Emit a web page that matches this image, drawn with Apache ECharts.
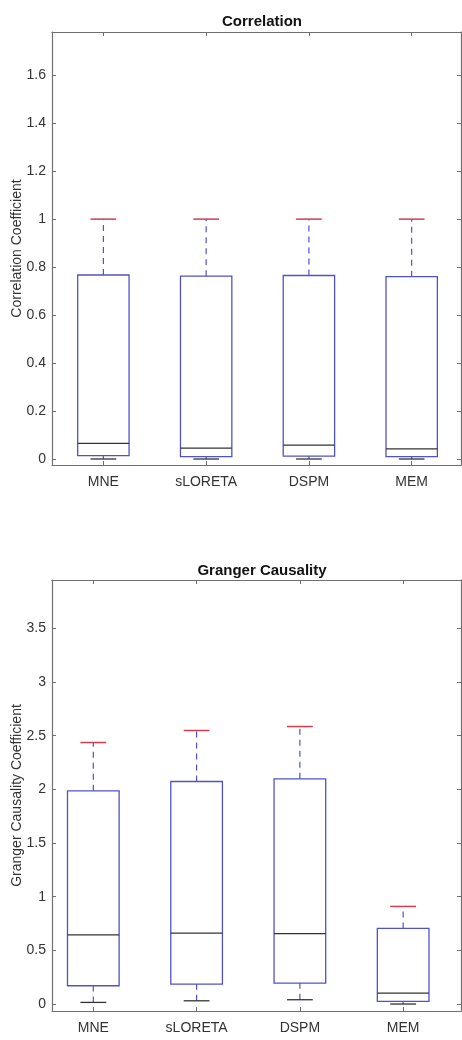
<!DOCTYPE html>
<html>
    <head>
        <meta charset="utf-8">
        <title>Correlation / Granger Causality</title>
        <script src="https://cdn.jsdelivr.net/npm/echarts/dist/echarts.min.js"></script>
        <style>
            body { margin: 0; background: #fff; }
        </style>
    </head>
    <body>
        <div id="chart1" style="width:462px;height:1040px;"></div>
    </body>
    <script type="text/javascript">
        // categories and box statistics
        var categories = ['MNE', 'sLORETA', 'DSPM', 'MEM'];
        var catPos = [1, 2, 3, 4];

        var corrMin    = [0, 0, 0, 0];
        var corrQ1     = [0.014, 0.010, 0.012, 0.010];
        var corrMedian = [0.065, 0.045, 0.058, 0.042];
        var corrQ3     = [0.767, 0.762, 0.765, 0.760];
        var corrMax    = [1, 1, 1, 1];
        var corrTicks  = [0, 0.2, 0.4, 0.6, 0.8, 1, 1.2, 1.4, 1.6];

        var gcMin    = [0.015, 0.030, 0.040, 0.000];
        var gcQ1     = [0.170, 0.186, 0.195, 0.024];
        var gcMedian = [0.645, 0.661, 0.655, 0.102];
        var gcQ3     = [1.986, 2.073, 2.098, 0.704];
        var gcMax    = [2.436, 2.548, 2.585, 0.909];
        var gcTicks  = [0, 0.5, 1, 1.5, 2, 2.5, 3, 3.5];

        var FONT = "'Liberation Sans Narrow', 'Liberation Sans', Arial, sans-serif";
        var BLUE = '#5252c8';
        var RED = '#d43c52';
        var DARK = '#333';
        var AXIS = '#707070';

        function rows(mn, q1, md, q3, mx) {
            return catPos.map(function (x, i) {
                return [x, mn[i], q1[i], md[i], q3[i], mx[i]];
            });
        }

        // matlab style box: blue box, black median, dashed whiskers, red top cap
        function renderBox(params, api) {
            var x = api.value(0);
            var lo = api.coord([x, api.value(1)]);
            var q1 = api.coord([x, api.value(2)]);
            var md = api.coord([x, api.value(3)]);
            var q3 = api.coord([x, api.value(4)]);
            var hi = api.coord([x, api.value(5)]);
            var bw = api.size([0.5, 0])[0];
            var cw = api.size([0.25, 0])[0];
            var cx = lo[0];
            return {
                type: 'group',
                children: [
                    { type: 'line', shape: { x1: cx, y1: q3[1], x2: cx, y2: hi[1] },
                      style: { stroke: BLUE, lineWidth: 1.2, lineDash: [6, 5] } },
                    { type: 'line', shape: { x1: cx, y1: lo[1], x2: cx, y2: q1[1] },
                      style: { stroke: BLUE, lineWidth: 1.2, lineDash: [6, 5] } },
                    { type: 'rect', shape: { x: cx - bw / 2, y: q3[1], width: bw, height: q1[1] - q3[1] },
                      style: { fill: null, stroke: BLUE, lineWidth: 1.3 } },
                    { type: 'line', shape: { x1: cx - bw / 2, y1: md[1], x2: cx + bw / 2, y2: md[1] },
                      style: { stroke: DARK, lineWidth: 1.3 } },
                    { type: 'line', shape: { x1: cx - cw / 2, y1: hi[1], x2: cx + cw / 2, y2: hi[1] },
                      style: { stroke: RED, lineWidth: 1.5 } },
                    { type: 'line', shape: { x1: cx - cw / 2, y1: lo[1], x2: cx + cw / 2, y2: lo[1] },
                      style: { stroke: DARK, lineWidth: 1.3 } }
                ]
            };
        }

        function xAxes(gridIndex, min, max) {
            var base = {
                type: 'value', gridIndex: gridIndex, min: min, max: max,
                splitLine: { show: false },
                axisLine: { show: true, onZero: false, lineStyle: { color: AXIS, width: 1.2 } },
                axisTick: { show: true, inside: true, length: 4, customValues: catPos, lineStyle: { color: AXIS } }
            };
            var bottom = Object.assign({}, base, {
                position: 'bottom',
                axisLabel: {
                    customValues: catPos, margin: 10, color: DARK, fontFamily: FONT, fontSize: 14,
                    formatter: function (v) { return categories[Math.round(v) - 1]; }
                }
            });
            var top = Object.assign({}, base, { position: 'top', axisLabel: { show: false } });
            return [bottom, top];
        }

        function yAxes(gridIndex, min, max, ticks, name) {
            var base = {
                type: 'value', gridIndex: gridIndex, min: min, max: max,
                splitLine: { show: false },
                axisLine: { show: true, onZero: false, lineStyle: { color: AXIS, width: 1.2 } },
                axisTick: { show: true, inside: true, length: 4, customValues: ticks, lineStyle: { color: AXIS } }
            };
            var left = Object.assign({}, base, {
                position: 'left',
                name: name, nameLocation: 'middle', nameGap: 28, nameMoveOverlap: false,
                nameTextStyle: { color: DARK, fontFamily: FONT, fontSize: 14 },
                axisLabel: { customValues: ticks, margin: 6, color: DARK, fontFamily: FONT, fontSize: 14 }
            });
            var right = Object.assign({}, base, { position: 'right', axisLabel: { show: false } });
            return [left, right];
        }

        var myChart1 = echarts.init(document.getElementById('chart1'));

        myChart1.setOption({
            backgroundColor: '#fff',
            animation: false,
            title: [
                { text: 'Correlation', left: 257, top: 9, textAlign: 'center',
                  textStyle: { fontFamily: FONT, fontSize: 15, fontWeight: 'bold', color: '#111' } },
                { text: 'Granger Causality', left: 257, top: 558, textAlign: 'center',
                  textStyle: { fontFamily: FONT, fontSize: 15, fontWeight: 'bold', color: '#111' } }
            ],
            grid: [
                { left: 52, top: 32, width: 409, height: 433, outerBoundsMode: 'none', containLabel: false },
                { left: 52, top: 580, width: 409, height: 431, outerBoundsMode: 'none', containLabel: false }
            ],
            xAxis: xAxes(0, 0.5, 4.48).concat(xAxes(1, 0.6, 4.56)),
            yAxis: yAxes(0, -0.025, 1.78, corrTicks, 'Correlation Coefficient')
                .concat(yAxes(1, -0.065, 3.95, gcTicks, 'Granger Causality Coefficient')),
            series: [
                {
                    name: 'Correlation', type: 'custom', xAxisIndex: 0, yAxisIndex: 0,
                    renderItem: renderBox, encode: { x: 0, y: [1, 2, 3, 4, 5] },
                    data: rows(corrMin, corrQ1, corrMedian, corrQ3, corrMax)
                },
                {
                    name: 'Granger Causality', type: 'custom', xAxisIndex: 2, yAxisIndex: 2,
                    renderItem: renderBox, encode: { x: 0, y: [1, 2, 3, 4, 5] },
                    data: rows(gcMin, gcQ1, gcMedian, gcQ3, gcMax)
                }
            ]
        });
    </script>
</html>
